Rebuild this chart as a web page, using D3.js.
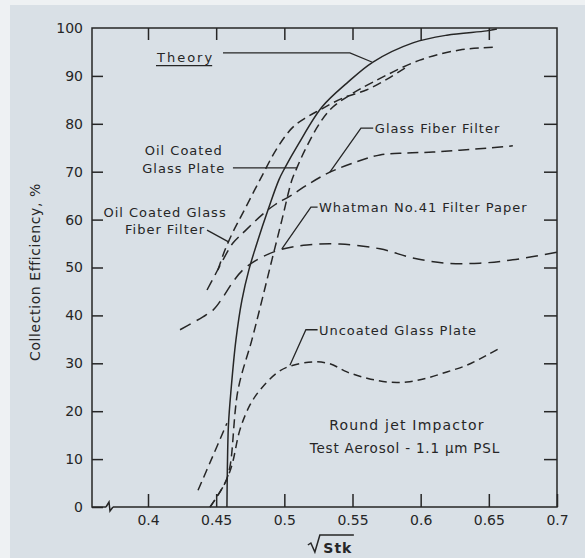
<!DOCTYPE html>
<html>
<head>
<meta charset="utf-8">
<script src="https://cdn.jsdelivr.net/npm/d3@7"></script>
<style>
  body { margin: 0; background: #eef1f3; }
  svg { display: block; }
  text { font-family: "DejaVu Sans", sans-serif; fill: #262626; }
</style>
</head>
<body>
<div id="chart"></div>
<script>
// sqrt(Stk) vs collection efficiency (%)
var theory = [
    [0.4579, 0], [0.4582, 7.7], [0.459, 17.1], [0.4609, 24.4], [0.4645, 34.9],
    [0.4689, 43.2], [0.474, 49.5], [0.4806, 55.7], [0.488, 62.0], [0.496, 68.3],
    [0.5004, 70.8], [0.51, 75.6], [0.5276, 83.5], [0.5459, 88.5], [0.565, 92.9],
    [0.5943, 96.9], [0.6192, 98.5], [0.6485, 99.4], [0.6559, 99.8]
];
var oilGlassPlate = [
    [0.4455, 0], [0.4565, 5.0], [0.4601, 8.4], [0.466, 24.4], [0.4762, 34.9],
    [0.4836, 43.2], [0.4909, 51.6], [0.4982, 59.9], [0.5056, 68.3], [0.5092, 70.8],
    [0.5151, 74.5], [0.5261, 80.2], [0.5356, 83.5], [0.5481, 86.0], [0.565, 88.7],
    [0.5994, 93.3], [0.6287, 95.4], [0.6566, 96.0]
];
var lowSegment = [[0.4367, 3.5], [0.4469, 10.2], [0.4579, 17.5]];
var oilFiberFilter = [
    [0.4513, 49.5], [0.4565, 53.7], [0.4623, 57.4], [0.4696, 61.4], [0.4821, 68.3],
    [0.4953, 75.2], [0.5063, 79.3], [0.5166, 81.4], [0.5261, 82.9], [0.543, 85.4],
    [0.5606, 87.1], [0.577, 89.6], [0.59, 91.9]
];
var glassFiberFilter = [
    [0.4433, 45.3], [0.4491, 48.4], [0.455, 51.6], [0.4623, 55.1], [0.4718, 57.8],
    [0.4836, 61.0], [0.4931, 63.1], [0.5041, 64.9], [0.5188, 67.6], [0.5334, 69.9],
    [0.5503, 71.8], [0.5701, 73.5], [0.5899, 73.9], [0.609, 74.1], [0.6287, 74.5],
    [0.6485, 74.9], [0.6676, 75.4]
];
var whatman = [
    [0.4235, 37.0], [0.4323, 38.4], [0.4403, 39.7], [0.4477, 41.1], [0.455, 43.8],
    [0.4623, 47.0], [0.4696, 49.5], [0.4799, 51.6], [0.4968, 53.7], [0.5166, 54.7],
    [0.5408, 54.9], [0.5701, 53.9], [0.5943, 52.0], [0.6192, 50.9], [0.6434, 50.9],
    [0.6676, 51.6], [0.6999, 53.2]
];
var uncoatedPlate = [
    [0.4455, 0], [0.4565, 5.0], [0.4616, 8.8], [0.4674, 16.1], [0.4748, 21.3],
    [0.4821, 24.4], [0.4946, 28.0], [0.5041, 29.4], [0.521, 30.3], [0.5334, 29.9],
    [0.5459, 28.2], [0.5606, 26.9], [0.5752, 26.1], [0.5899, 26.1], [0.6045, 26.9],
    [0.6192, 28.2], [0.6339, 29.6], [0.6485, 31.7], [0.6595, 33.4]
];

var xTicks = [0.4, 0.45, 0.5, 0.55, 0.6, 0.65, 0.7];
var yTicks = [0, 10, 20, 30, 40, 50, 60, 70, 80, 90, 100];

var width = 585, height = 558;
var frame = { left: 92, right: 557, top: 28, bottom: 507 };

var svg = d3.select("#chart").append("svg")
    .attr("width", width)
    .attr("height", height);

// scanned paper
svg.append("rect").attr("width", width).attr("height", height).attr("fill", "#eef1f3");
svg.append("rect").attr("x", 10).attr("y", 5)
    .attr("width", width - 10).attr("height", height - 5)
    .attr("fill", "#d9e0e6");

var x = d3.scaleLinear().domain([0.4, 0.7]).range([148, frame.right]);
var y = d3.scaleLinear().domain([0, 100]).range([frame.bottom, frame.top]);

var ink = "#262626";

// frame with the axis break near the origin
svg.append("path")
    .attr("d", "M" + (frame.left + 14) + "," + frame.bottom +
        "L" + frame.left + "," + frame.bottom +
        "L" + frame.left + "," + frame.top +
        "L" + frame.right + "," + frame.top +
        "L" + frame.right + "," + frame.bottom +
        "L" + (frame.left + 21) + "," + frame.bottom +
        "M" + (frame.left + 14) + "," + frame.bottom +
        "l3,-5 l1,9 l3,-4")
    .attr("fill", "none")
    .attr("stroke", ink)
    .attr("stroke-width", 1.5);

function styleAxis(g) {
    g.select(".domain").remove();
    g.selectAll("line").attr("stroke", ink).attr("stroke-width", 1.5);
    g.selectAll("text").attr("fill", ink).style("font-size", "14px")
        .style("font-family", "'DejaVu Sans', sans-serif");
}

svg.append("g")
    .attr("transform", "translate(" + frame.left + ",0)")
    .call(d3.axisLeft(y).tickValues(yTicks).tickSizeInner(-11).tickSizeOuter(0)
        .tickPadding(9).tickFormat(d3.format("d")))
    .call(styleAxis)
    .call(function(g) { g.selectAll(".tick").filter(function(d) { return d === 100; }).select("line").remove(); });

svg.append("g")
    .attr("transform", "translate(0," + frame.bottom + ")")
    .call(d3.axisBottom(x).tickValues(xTicks).tickSizeInner(-13).tickSizeOuter(0)
        .tickPadding(8).tickFormat(function(d) { return String(d); }))
    .call(styleAxis);

svg.append("g")
    .attr("transform", "translate(0," + frame.top + ")")
    .call(d3.axisTop(x).tickValues(xTicks.slice(0, 6)).tickSizeInner(-12).tickSizeOuter(0).tickFormat(""))
    .call(styleAxis);

svg.append("g")
    .attr("transform", "translate(" + frame.right + ",0)")
    .call(d3.axisRight(y).tickValues(yTicks.slice(1, 10)).tickSizeInner(-13).tickSizeOuter(0).tickFormat(""))
    .call(styleAxis);

// curves
var line = d3.line()
    .x(function(d) { return x(d[0]); })
    .y(function(d) { return y(d[1]); })
    .curve(d3.curveCatmullRom.alpha(0.5));

var series = [
    { data: theory, dash: null },
    { data: oilGlassPlate, dash: "9,5" },
    { data: lowSegment, dash: "9,5" },
    { data: oilFiberFilter, dash: "9,5" },
    { data: glassFiberFilter, dash: "11,6" },
    { data: whatman, dash: "12,7" },
    { data: uncoatedPlate, dash: "8,5" }
];

svg.append("g").selectAll("path")
    .data(series)
    .join("path")
    .attr("d", function(s) { return line(s.data); })
    .attr("fill", "none")
    .attr("stroke", ink)
    .attr("stroke-width", 1.5)
    .attr("stroke-dasharray", function(s) { return s.dash; });

// labels with leader lines (positions in data units)
var notes = [
    { lines: ["Theory"], at: [0.4066, 93.7], anchor: "start", underline: true, spacing: 2,
      leader: [[0.455, 94.8], [0.5481, 94.8], [0.5642, 92.9]] },
    { lines: ["Oil Coated", "Glass  Plate"], at: [0.4262, 74.3], anchor: "middle",
      leader: [[0.4623, 70.8], [0.5092, 70.8]] },
    { lines: ["Oil Coated Glass", "Fiber Filter"], at: [0.4125, 61.4], anchor: "middle",
      leader: [[0.4433, 57.8], [0.4594, 55.3]] },
    { lines: ["Glass Fiber Filter"], at: [0.5664, 78.9], anchor: "start",
      leader: [[0.5652, 79.1], [0.5562, 79.1], [0.5334, 69.9]] },
    { lines: ["Whatman No.41 Filter Paper"], at: [0.5254, 62.4], anchor: "start",
      leader: [[0.5244, 62.6], [0.5195, 62.6], [0.4982, 53.9]] },
    { lines: ["Uncoated Glass Plate"], at: [0.5254, 36.8], anchor: "start",
      leader: [[0.5244, 37], [0.5158, 37], [0.5041, 29.6]] }
];

var leaderLine = d3.line()
    .x(function(d) { return x(d[0]); })
    .y(function(d) { return y(d[1]); });

notes.forEach(function(n) {
    var t = svg.append("text")
        .attr("x", x(n.at[0]))
        .attr("y", y(n.at[1]))
        .attr("text-anchor", n.anchor)
        .attr("dominant-baseline", "middle")
        .style("font-size", "13px")
        .style("letter-spacing", (n.spacing || 1) + "px");
    n.lines.forEach(function(s, i) {
        t.append("tspan")
            .attr("x", x(n.at[0]))
            .attr("dy", i === 0 ? 0 : "1.35em")
            .text(s);
    });
    if (n.underline) {
        var bb = t.node().getBBox();
        svg.append("line")
            .attr("x1", bb.x).attr("x2", bb.x + bb.width - 2)
            .attr("y1", bb.y + bb.height + 1).attr("y2", bb.y + bb.height + 1)
            .attr("stroke", ink).attr("stroke-width", 1.3);
    }
    svg.append("path")
        .attr("d", leaderLine(n.leader))
        .attr("fill", "none")
        .attr("stroke", ink)
        .attr("stroke-width", 1.3);
});

svg.append("text")
    .attr("x", x(0.5899)).attr("y", y(16.9))
    .attr("text-anchor", "middle").attr("dominant-baseline", "middle")
    .style("font-size", "14px").style("letter-spacing", "1.2px")
    .text("Round jet Impactor");

svg.append("text")
    .attr("x", x(0.5884)).attr("y", y(12.1))
    .attr("text-anchor", "middle").attr("dominant-baseline", "middle")
    .style("font-size", "13.5px").style("letter-spacing", "0.8px")
    .text("Test Aerosol - 1.1 \u03bcm PSL");

// axis titles
svg.append("text")
    .attr("transform", "translate(36,272) rotate(-90)")
    .attr("text-anchor", "middle").attr("dominant-baseline", "middle")
    .style("font-size", "14px").style("letter-spacing", "0.6px")
    .text("Collection Efficiency, %");

var stk = svg.append("g").attr("transform", "translate(" + x(0.5334) + ",0)");
stk.append("text")
    .attr("x", 8).attr("y", 553)
    .attr("text-anchor", "middle")
    .style("font-size", "14px").style("font-weight", "bold").style("letter-spacing", "1px")
    .text("Stk");
stk.append("path")
    .attr("d", "M-22,545 l3,-2 l4,9 l5,-17 h34")
    .attr("fill", "none")
    .attr("stroke", ink)
    .attr("stroke-width", 1.5);
</script>
</body>
</html>
